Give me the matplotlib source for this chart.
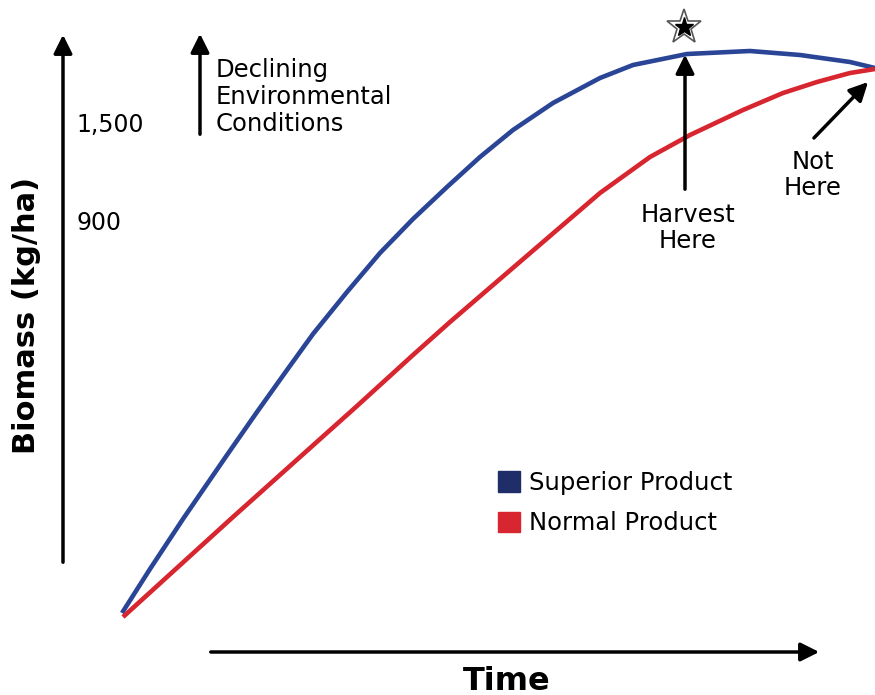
import matplotlib.pyplot as plt
from matplotlib.patches import Patch

# curve readings (time in px-like units, biomass measured upward)
time_superior = [122, 150, 183, 227, 257, 287, 313, 347, 380, 413, 447, 480, 513,
                 553, 600, 633, 687, 750, 800, 850, 875]
biomass_superior = [82, 126, 176, 240, 283, 325, 361, 403, 442, 476, 508, 538, 565,
                    592, 617, 630, 641, 644, 640, 633, 627]

time_normal = [123, 167, 233, 300, 357, 413, 450, 500, 550, 600, 650, 690, 743,
               783, 817, 850, 875]
biomass_normal = [78, 118, 178, 238, 289, 340, 373, 416, 459, 502, 538, 560, 585,
                  602, 613, 622, 626]

tick_labels = ["1,500", "900"]
series_names = ["Superior Product", "Normal Product"]

blue = "#2a4596"
navy = "#1f2d68"
red = "#d7262f"

plt.rcParams["font.family"] = ["DejaVu Sans"]

fig = plt.figure(figsize=(8.75, 6.95), dpi=100)
ax = fig.add_axes([0, 0, 1, 1])
ax.set_xlim(0, 875)
ax.set_ylim(0, 695)
ax.axis("off")

ax.plot(time_superior, biomass_superior, color=blue, lw=3.3,
        solid_capstyle="butt", solid_joinstyle="round")
ax.plot(time_normal, biomass_normal, color=red, lw=3.3,
        solid_capstyle="butt", solid_joinstyle="round")

arrow = dict(arrowstyle="-|>", color="black", lw=2.5, mutation_scale=28)

# axis arrows
ax.annotate("", xy=(63, 663), xytext=(63, 130), arrowprops=arrow)
ax.annotate("", xy=(822, 43), xytext=(208, 43), arrowprops=arrow)
ax.annotate("", xy=(200, 664), xytext=(200, 558), arrowprops=arrow)

ax.text(27, 380, "Biomass (kg/ha)", rotation=90, ha="center", va="center",
        fontsize=22, fontweight="bold")
ax.text(507, 14, "Time", ha="center", va="center", fontsize=23, fontweight="bold")

ax.text(76, 570, tick_labels[0], ha="left", va="center", fontsize=17)
ax.text(76, 472, tick_labels[1], ha="left", va="center", fontsize=17)

ax.text(216, 598, "Declining\nEnvironmental\nConditions", ha="left", va="center",
        fontsize=17.5, linespacing=1.15)

# harvest marker
ax.annotate("", xy=(685, 643), xytext=(685, 503), arrowprops=arrow)
ax.text(688, 467, "Harvest\nHere", ha="center", va="center", fontsize=17.5, linespacing=1.15)
ax.plot([684], [668], marker="*", ms=26, mfc="white", mec="#555555", mew=1.2)
ax.plot([684], [668], marker="*", ms=14, mfc="black", mec="black")

ax.annotate("", xy=(870, 615), xytext=(812, 555), arrowprops=arrow)
ax.text(813, 520, "Not\nHere", ha="center", va="center", fontsize=17.5, linespacing=1.15)

handles = [Patch(facecolor=navy, edgecolor=navy), Patch(facecolor=red, edgecolor=red)]
ax.legend(handles, series_names, loc="upper left", bbox_to_anchor=(0.544, 0.354),
          frameon=False, fontsize=17.5, handlelength=0.9, handleheight=0.9,
          handletextpad=0.4, labelspacing=0.68)

fig.savefig("out.png", dpi=100)
